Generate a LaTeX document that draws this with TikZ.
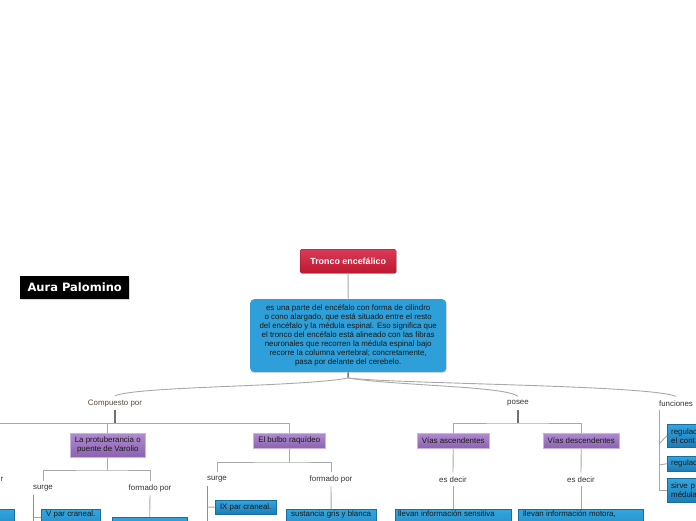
\documentclass[tikz,border=0pt]{standalone}
\usepackage{fontspec}
\setmainfont{Liberation Sans}
\newfontfamily\namefont{DejaVu Sans}
\usetikzlibrary{shadows}
\definecolor{redtop}{HTML}{DA3B57}
\definecolor{redbot}{HTML}{BE1830}
\definecolor{bluefill}{HTML}{2E9FD9}
\definecolor{bluetop}{HTML}{33A5DE}
\definecolor{bluebot}{HTML}{1B7DB8}
\definecolor{blueedge}{HTML}{1A6E9E}
\definecolor{purtop}{HTML}{B08BD0}
\definecolor{purbot}{HTML}{8B63AE}
\definecolor{puredge}{HTML}{C9B5DD}
\definecolor{linegray}{HTML}{A8A8A8}
\definecolor{stubgray}{HTML}{707070}
\definecolor{lbltext}{HTML}{333333}
\definecolor{comptext}{HTML}{5A4A3A}
\newcommand{\lefttext}[2]{\makebox[#1pt][l]{#2}}
\begin{document}
\begin{tikzpicture}[x=1pt,y=-1pt,
  conn/.style={draw=linegray, line width=0.9pt},
  stubline/.style={draw=stubgray, line width=1.4pt},
  lbl/.style={font=\fontsize{7.9}{9}\selectfont, text=lbltext, inner sep=0pt},
  purbox/.style={top color=purtop, bottom color=purbot, draw=puredge, line width=0.5pt,
    font=\fontsize{7.9}{9}\selectfont, text=black!90, anchor=north west, inner sep=0pt, align=center},
  bluebox/.style={top color=bluetop, bottom color=bluebot, draw=blueedge, line width=0.4pt,
    font=\fontsize{7.9}{9}\selectfont, text=black!90, anchor=north west, inner sep=0pt},
  cutbox/.style={bluebox, text depth=24pt, inner xsep=5pt, inner ysep=0pt, text height=7.3pt}
]
\useasboundingbox (0,0) rectangle (696,520);
\clip (0,0) rectangle (696,520);

% title and author
\node[top color=redtop, bottom color=redbot, draw=redbot!80!black, line width=0.3pt, rounded corners=1.5pt,
  minimum width=96, minimum height=24, anchor=north west, inner sep=0pt,
  text=white, font=\bfseries\fontsize{8.9}{10}\selectfont,
  drop shadow={shadow xshift=0.6pt, shadow yshift=-0.8pt, opacity=0.25}] (title) at (300,249) {Tronco encefálico};
\node[fill=black, minimum width=109, minimum height=23, anchor=north west, inner sep=0pt,
  text=white, font=\namefont\bfseries\fontsize{11.5}{13}\selectfont,
  drop shadow={shadow xshift=0.8pt, shadow yshift=-0.8pt, opacity=0.3}] (author) at (20,276) {Aura Palomino};

% description
\node[fill=bluefill, rounded corners=4pt, minimum width=196, minimum height=73, anchor=north west, inner sep=0pt,
  align=center, font=\fontsize{7.9}{9}\selectfont, text=black!90,
  drop shadow={shadow xshift=0.6pt, shadow yshift=-0.8pt, opacity=0.25}] (desc) at (250,299)
  {es una parte del encéfalo con forma de cilindro\\
   o cono alargado, que está situado entre el resto\\
   del encéfalo y la médula espinal. Eso significa que\\
   el tronco del encéfalo está alineado con las fibras\\
   neuronales que recorren la médula espinal bajo\\
   recorre la columna vertebral; concretamente,\\
   pasa por delante del cerebelo.};

\draw[conn] (title.south) -- (desc.north);
\coordinate (hub) at (348,378);
\draw[stubline] (desc.south) -- (hub);

% level-one labels
\node[lbl, text=comptext] (comp) at (115,403.5) {Compuesto por};
\node[lbl] (posee) at (518,403.5) {posee};
\node[lbl] (func) at (676,403.5) {funciones};

\draw[conn] (hub) .. controls (300,387) and (140,386) .. ([yshift=4]comp.north);
\draw[conn] (hub) .. controls (400,386) and (505,386) .. ([yshift=4]posee.north);
\draw[conn] (hub) .. controls (400,384) and (650,385) .. ([yshift=4]func.north);

% ---------- Compuesto por ----------
\coordinate (compbar) at (115,423);
\draw[stubline] ([yshift=-3]comp.south) -- (compbar);
\node[purbox, minimum width=75, minimum height=24] (prot) at (70,433) {La protuberancia o\\puente de Varolio};
\node[purbox, minimum width=72, minimum height=15] (bulbo) at (253,433) {El bulbo raquídeo};
\draw[conn] (-5,423) -- (bulbo.north |- compbar) -- (bulbo.north);
\draw[conn] (prot.north |- compbar) -- (prot.north);

% off-canvas left node remnants
\node[lbl, anchor=east] (leftlbl) at (3.5,479.5) {r};
\node[bluebox, minimum width=24, minimum height=25] (leftbox) at (-10,509) {};

% protuberancia children
\node[lbl] (surge1) at (43,488.5) {surge};
\node[lbl] (form1) at (150,488.5) {formado por};
\draw[conn] (prot.south) -- (prot.south |- 0,470);
\draw[conn] ([yshift=4]surge1.north) |- (prot.south |- 0,470) -| ([yshift=4]form1.north);
\node[cutbox] (vpar) at (41,509) {\lefttext{49}{V par craneal.}};
\node[bluebox, minimum width=75, minimum height=20] (sust1) at (112,517) {};
\draw[conn, draw=stubgray!80] ([yshift=-3]surge1.south -| 33,0) -- (33,530);
\draw[conn] (33,517) -- (vpar.west |- 0,517);
\draw[conn] ([yshift=-3]form1.south) -- (sust1.north);

% bulbo children
\node[lbl] (surge2) at (217,479.5) {surge};
\node[lbl] (form2) at (331,479.5) {formado por};
\draw[conn] (bulbo.south) -- (bulbo.south |- 0,462);
\draw[conn] ([yshift=4]surge2.north) |- (bulbo.south |- 0,462) -| ([yshift=4]form2.north);
\node[bluebox, minimum width=61, minimum height=14] (ixpar) at (215,500) {IX par craneal.};
\node[cutbox] (sust2) at (286,509) {\lefttext{80}{sustancia gris y blanca}};
\draw[conn, draw=stubgray!80] ([yshift=-3]surge2.south -| 207,0) -- (207,530);
\draw[conn] (207,507) -- (ixpar.west);
\draw[conn] ([yshift=-3]form2.south) -- (sust2.north);

% ---------- posee ----------
\coordinate (poseebar) at (518,423);
\draw[stubline] ([yshift=-3]posee.south) -- (poseebar);
\node[purbox, minimum width=72, minimum height=15] (asc) at (417,433) {Vías ascendentes};
\node[purbox, minimum width=76, minimum height=15] (desc2) at (543,433) {Vías descendentes};
\draw[conn] (asc.north) |- (poseebar) -| (desc2.north);
\node[lbl] (esd1) at (453,479.5) {es decir};
\node[lbl] (esd2) at (581,479.5) {es decir};
\draw[conn] (asc.south) -- ([yshift=4]esd1.north);
\draw[conn] (desc2.south) -- ([yshift=4]esd2.north);
\node[cutbox, inner xsep=3pt] (sens) at (395,509) {\lefttext{110}{llevan información sensitiva}};
\node[cutbox] (mot) at (518,509) {\lefttext{115}{llevan información motora,}};
\draw[conn] ([yshift=-3]esd1.south) -- (esd1.south |- sens.north);
\draw[conn] ([yshift=-3]esd2.south) -- (esd2.south |- mot.north);

% ---------- funciones ----------
\node[bluebox, minimum width=40, minimum height=23, align=left, text width=34, inner xsep=4pt] (f1) at (667,424) {regulac\\el cont};
\node[bluebox, minimum width=40, minimum height=15, align=left, text width=34, inner xsep=4pt] (f2) at (667,456) {regulac};
\node[bluebox, minimum width=40, minimum height=24, align=left, text width=34, inner xsep=4pt] (f3) at (667,478) {sirve p\\médula};
\draw[conn] ([yshift=-3]func.south -| 659,0) |- (f3.west);
\draw[conn] (659,444) -- (f1.west);
\draw[conn] (659,465) -- (f2.west);
\end{tikzpicture}
\end{document}
